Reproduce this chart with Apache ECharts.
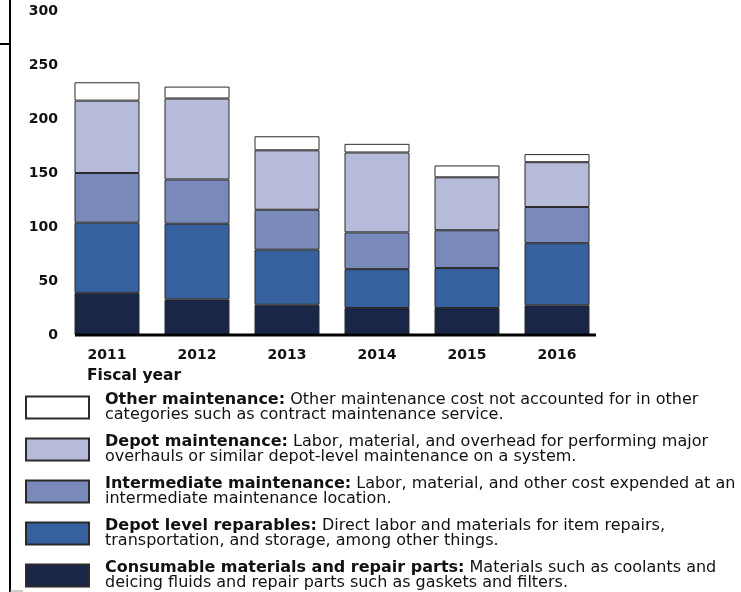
<!DOCTYPE html>
<html>
<head>
<meta charset="utf-8">
<script src="https://cdn.jsdelivr.net/npm/echarts@6/dist/echarts.min.js"></script>
<style>html,body{margin:0;padding:0;background:#fff;}#c{width:741px;height:592px;}</style>
</head>
<body>
<div id="c"></div>
<script>
const years = ['2011', '2012', '2013', '2014', '2015', '2016'];
const consumable = [39, 33, 28, 25, 25, 27.5];
const depotReparables = [65, 70, 51, 36, 37, 57.5];
const intermediate = [46, 41, 37, 34, 35, 33.5];
const depotMaint = [67, 75, 55, 74, 49, 41.5];
const other = [17, 11, 13, 8, 11, 7.5];
const yTicks = [0, 50, 100, 150, 200, 250, 300];

const names = {
  other: 'Other maintenance',
  depot: 'Depot maintenance',
  inter: 'Intermediate maintenance',
  dlr: 'Depot level reparables',
  cons: 'Consumable materials and repair parts'
};
const descriptions = {
  'Other maintenance': ['Other maintenance cost not accounted for in other', 'categories such as contract maintenance service.'],
  'Depot maintenance': ['Labor, material, and overhead for performing major', 'overhauls or similar depot-level maintenance on a system.'],
  'Intermediate maintenance': ['Labor, material, and other cost expended at an', 'intermediate maintenance location.'],
  'Depot level reparables': ['Direct labor and materials for item repairs,', 'transportation, and storage, among other things.'],
  'Consumable materials and repair parts': ['Materials such as coolants and', 'deicing fluids and repair parts such as gaskets and filters.']
};
const colors = {
  cons: '#192647', dlr: '#37619e', inter: '#7989b9', depot: '#b7bbda', other: '#ffffff'
};

const FONT = 'DejaVu Sans';
function bar(key, data) {
  return {
    name: names[key], type: 'bar', stack: 'total', data: data,
    barWidth: 65,
    itemStyle: { color: colors[key], borderColor: '#2a2a2a', borderWidth: 1 },
    emphasis: { disabled: true }
  };
}

const chart = echarts.init(document.getElementById('c'), null, { renderer: 'canvas' });
chart.setOption({
  animation: false,
  backgroundColor: '#ffffff',
  grid: { left: 62, right: 139, top: 11, bottom: 257, containLabel: false },
  xAxis: {
    type: 'category', data: years,
    axisLine: { show: false }, axisTick: { show: false },
    axisLabel: { margin: 13, color: '#111', fontFamily: FONT, fontWeight: 'bold', fontSize: 14 }
  },
  yAxis: {
    type: 'value', min: yTicks[0], max: yTicks[yTicks.length - 1], interval: 50,
    axisLine: { show: false }, axisTick: { show: false }, splitLine: { show: false },
    axisLabel: { margin: 4, color: '#111', fontFamily: FONT, fontWeight: 'bold', fontSize: 14 }
  },
  title: {
    text: 'Fiscal year', left: 87, top: 368, padding: 0,
    textStyle: { fontFamily: FONT, fontWeight: 'bold', fontSize: 15.5, color: '#111' }
  },
  legend: {
    orient: 'vertical', left: 25, top: 392, height: 260, itemWidth: 63, itemHeight: 22, itemGap: 11,
    padding: 0, selectedMode: false, icon: 'rect',
    data: [names.other, names.depot, names.inter, names.dlr, names.cons],
    formatter: function (n) {
      const d = descriptions[n];
      return '{b|' + n + ':} ' + d[0] + '\n' + d[1];
    },
    textStyle: {
      fontFamily: FONT, fontSize: 16, color: '#111', lineHeight: 15, padding: [0, 0, 0, 11],
      rich: { b: { fontFamily: FONT, fontSize: 16, fontWeight: 'bold', color: '#111', lineHeight: 15 } }
    }
  },
  graphic: [
    { type: 'line', shape: { x1: 75, y1: 335, x2: 596, y2: 335 }, style: { stroke: '#000', lineWidth: 3 }, z: 100 },
    { type: 'line', shape: { x1: 10, y1: 0, x2: 10, y2: 592 }, style: { stroke: '#000', lineWidth: 2 } },
    { type: 'line', shape: { x1: 0, y1: 44, x2: 10, y2: 44 }, style: { stroke: '#000', lineWidth: 2 } },
    { type: 'line', shape: { x1: 10, y1: 591, x2: 23, y2: 591 }, style: { stroke: '#999', lineWidth: 1 } }
  ],
  series: [
    bar('cons', consumable),
    bar('dlr', depotReparables),
    bar('inter', intermediate),
    bar('depot', depotMaint),
    bar('other', other)
  ]
});
</script>
</body>
</html>
